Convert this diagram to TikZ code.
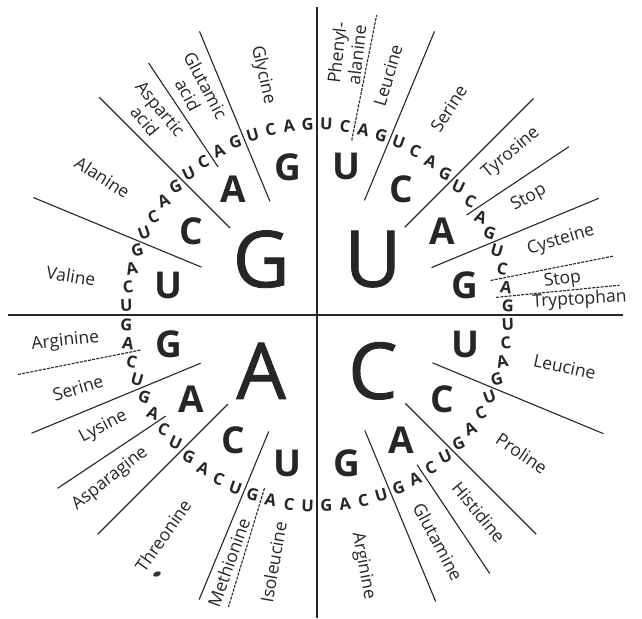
\documentclass[tikz,border=0pt]{standalone}
\usepackage{fontspec}
\setmainfont{Open Sans}
\newfontfamily\semib{Open Sans}[FakeBold=1.2]
\begin{document}
\begin{tikzpicture}[x=1pt,y=-1pt,
  sep/.style={line width=1.1pt, black!85},
  dsh/.style={sep, dash pattern=on 3pt off 1.2pt},
  big/.style={font=\semib\fontsize{78}{78}\selectfont, inner sep=0pt, text=black!85},
  mid/.style={font=\bfseries\fontsize{37}{37}\selectfont, inner sep=0pt, text=black!85},
  sml/.style={font=\bfseries\fontsize{16.5}{16.5}\selectfont, inner sep=0pt, text=black!85},
  aa/.style={font=\fontsize{17.5}{20}\selectfont, inner sep=0pt, align=center, text=black!85}]
\fill[white] (0,0) rectangle (642,618);
\useasboundingbox (0,0) rectangle (642,618);
\coordinate (C) at (317,315);
\coordinate (vtop) at (317,7);
\coordinate (vbot) at (317,618);
\coordinate (hleft) at (8,315);
\coordinate (hright) at (623,315);
\draw[sep] (vtop) -- (vbot);
\draw[sep] (hleft) -- (hright);
% big letters
\foreach \l/\th [count=\k] in {U/45,C/135,A/225,G/315} {
  \pgfmathsetmacro\px{317+79*sin(\th)}
  \pgfmathsetmacro\py{315-79*cos(\th)}
  \node[big] (B\k) at (\px,\py) {\l};
}
% medium letters
\foreach \q in {0,...,3} {
  \foreach \l [count=\j from 0] in {U,C,A,G} {
    \pgfmathsetmacro\th{90*\q+11.25+22.5*\j}
    \pgfmathsetmacro\px{317+151*sin(\th)}
    \pgfmathsetmacro\py{315-151*cos(\th)}
    \node[mid] (M\q-\j) at (\px,\py) {\l};
  }
}
% small letters
\foreach \n in {0,...,15} {
  \foreach \l [count=\j from 0] in {U,C,A,G} {
    \pgfmathsetmacro\th{5.625*(4*\n+\j+0.5)}
    \pgfmathsetmacro\px{317+191*sin(\th)}
    \pgfmathsetmacro\py{315-191*cos(\th)}
    \pgfmathsetmacro\rt{-25*sin(2*\th)}
    \node[sml, rotate=\rt] (S\n-\j) at (\px,\py) {\l};
  }
}
% separators
\foreach \th/\ri/\ro/\st [count=\i] in {
  22.5/124/307/sep, 45/124/306/sep, 67.5/124/305/sep,
  112.5/125/310/sep, 135/125/310/sep, 157.5/125/310/sep,
  202.5/126/308/sep, 225/126/310/sep, 247.5/126/309/sep,
  292.5/125/307/sep, 315/123/308/sep, 337.5/123/307/sep,
  11.25/178/306/dsh, 56.25/180/303/sep, 78.75/177/302/dsh, 84.375/180/304/dsh,
  146.25/180/311/sep, 196.875/181/305/dsh, 236.25/182/312/sep,
  258.75/180/306/dsh, 326.25/178/303/sep} {
  \pgfmathsetmacro\xa{317+\ri*sin(\th)}
  \pgfmathsetmacro\ya{315-\ri*cos(\th)}
  \pgfmathsetmacro\xb{317+\ro*sin(\th)}
  \pgfmathsetmacro\yb{315-\ro*cos(\th)}
  \coordinate (La\i) at (\xa,\ya);
  \coordinate (Lb\i) at (\xb,\yb);
  \draw[\st] (La\i) -- (Lb\i);
}
% amino acid labels
\foreach \th/\r/\t [count=\i] in {
  6.5/263/{Phenyl-\\alanine}, 16.5/250/Leucine, 32.5/245/Serine,
  50.1/253/Tyrosine, 61.1/242/Stop, 73/255/Cysteine, 81.9/248/Stop,
  86.7/263/Tryptophan, 101.8/253/Leucine, 124/247/Proline,
  140.6/255/Histidine, 151.9/257/Glutamine, 169.6/255/Arginine,
  190/251/Isoleucine, 199.6/263/Methionine, 214.9/269/Threonine,
  231.6/264/Asparagine, 242.4/241/Lysine, 253/250/Serine,
  264/253/Arginine, 279/249/Valine, 302.7/255/Alanine,
  320.6/259/{Aspartic\\acid}, 331.9/255/{Glutamic\\acid}, 347.3/246/Glycine} {
  \pgfmathsetmacro\px{317+\r*sin(\th)}
  \pgfmathsetmacro\py{315-\r*cos(\th)}
  \pgfmathsetmacro\rt{\th<180 ? 90-\th : 270-\th}
  \node[aa, rotate=\rt] (T\i) at (\px,\py) {\t};
}
% scan blot
\fill[black!80, rotate around={20:(157,574)}] (157,574) ellipse (4pt and 2.5pt);
\end{tikzpicture}
\end{document}
